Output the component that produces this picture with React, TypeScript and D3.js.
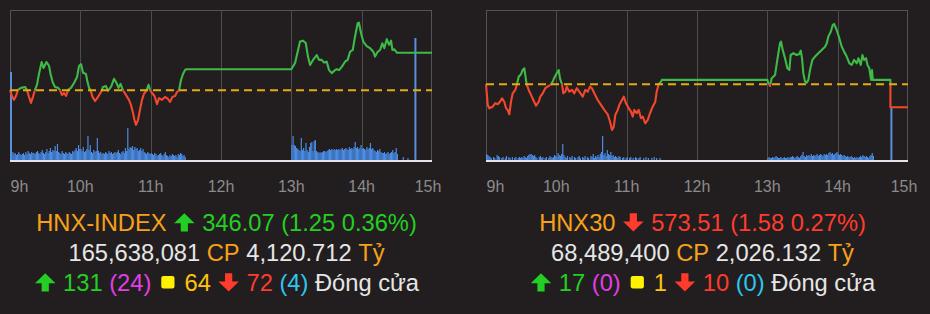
import React from 'react';
import * as d3 from 'd3';

const W = 930;
const H = 314;
const FONT = '"Liberation Sans", Arial, Helvetica, sans-serif';

const HOUR_LABELS = ['9h', '10h', '11h', '12h', '13h', '14h', '15h'];
const HOUR_MINUTES = [0, 60, 120, 180, 240, 300, 360];

// ---------- HNX-INDEX ----------
const HNX_REF = 344.82;
const HNX_DOMAIN = [342.5, 347.49];
const HNX_POINTS: [number, number][] = [
  [0, 344.82], [1.7, 344.63], [3.4, 344.5], [5.1, 344.63], [6.8, 344.83], [9.4, 344.9], [12.8, 344.93], [14.5, 344.83],
  [16.2, 344.6], [17.9, 344.4], [19.6, 344.6], [21.3, 344.83], [23, 345.0], [24.7, 345.36], [27, 345.76], [28.6, 345.56],
  [31.1, 345.76], [33.3, 345.63], [34.6, 345.36], [36.3, 345.1], [38.4, 344.93], [41, 344.9], [42.7, 344.82], [44.4, 344.66],
  [46.1, 344.73], [47.8, 344.63], [49.5, 344.83], [52, 344.9], [54.6, 345.06], [57.2, 345.26], [58.9, 345.63], [60.6, 345.69],
  [62.3, 345.4], [64.8, 345.36], [66.1, 345.1], [67.4, 344.9], [68.7, 344.82], [70.4, 344.6], [72.5, 344.46], [75.1, 344.6],
  [77.6, 344.76], [79.3, 344.93], [81.9, 344.96], [83.6, 344.8], [86.2, 344.93], [88.7, 345.2], [90.9, 345.06], [92.6, 344.9],
  [94.3, 345.03], [96.4, 344.82], [99, 344.66], [101.5, 344.5], [103.2, 344.33], [104.9, 344.07], [106.2, 343.83], [107.5, 343.67],
  [109.2, 343.83], [110.9, 344.17], [112.6, 344.5], [114.3, 344.7], [116.5, 344.82], [118.2, 345.0], [119.4, 344.83], [121.1, 344.73],
  [123.3, 344.63], [125.4, 344.36], [127.1, 344.56], [129.7, 344.5], [132.2, 344.6], [134.8, 344.53], [136.5, 344.43], [138.6, 344.6],
  [140.8, 344.63], [142.5, 344.76], [144.2, 344.82], [145.9, 345.16], [147.6, 345.36], [149.3, 345.49], [150, 345.52],
  [240, 345.52], [243.2, 345.73], [247.4, 346.44], [250, 346.47], [252.3, 346.39], [254.2, 345.94], [256, 345.66], [258.5, 345.83],
  [261.7, 345.99], [263.6, 345.83], [265.9, 345.83], [267.9, 345.74], [270.2, 345.77], [272.2, 345.49], [274.5, 345.39], [276.7, 345.47],
  [278.7, 345.52], [280.7, 345.49], [283, 345.6], [285.8, 345.77], [288.1, 345.83], [290.1, 346.1], [292.4, 346.16], [294.3, 346.6],
  [296.6, 347.05], [297.7, 347.07], [299.5, 346.71], [301.4, 346.44], [304.3, 346.29], [307.2, 346.22], [310, 346.1], [311.4, 345.94],
  [313.7, 346.1], [315.7, 346.16], [317.6, 346.38], [319.3, 346.22], [321.4, 346.52], [323.4, 346.33], [325.1, 346.47], [326.2, 346.16],
  [327.9, 346.18], [330, 346.07], [345, 346.07], [360, 346.07],
];
// volume per minute (thousand shares), morning from 9:00, afternoon from 13:00
const HNX_VOL_AM = [
  880, 50, 80, 60, 70, 50, 60, 80, 60, 50,
  60, 70, 50, 80, 60, 90, 70, 60, 80, 70,
  70, 60, 80, 90, 70, 60, 80, 100, 70, 60,
  80, 110, 70, 90, 120, 80, 100, 90, 140, 90,
  160, 80, 70, 60, 90, 70, 60, 80, 70, 60,
  80, 70, 60, 90, 80, 100, 120, 90, 150, 110,
  110, 90, 130, 80, 90, 110, 240, 100, 150, 80,
  70, 100, 80, 90, 220, 90, 70, 80, 60, 70,
  60, 80, 70, 60, 90, 70, 80, 60, 70, 80,
  70, 80, 100, 70, 60, 80, 90, 70, 120, 90,
  320, 110, 130, 120, 140, 100, 130, 110, 120, 90,
  100, 120, 90, 110, 80, 70, 60, 80, 70, 60,
  70, 60, 50, 70, 60, 40, 50, 60, 70, 50,
  40, 60, 80, 50, 40, 30, 50, 40, 60, 50,
  40, 50, 30, 60, 50, 70, 60, 40, 50, 30,
];
const HNX_VOL_PM = [
  150, 240, 150, 140, 120, 110, 100, 90, 220, 100,
  120, 90, 170, 100, 80, 130, 170, 180, 90, 190,
  200, 90, 80, 70, 80, 70, 80, 90, 90, 80,
  90, 100, 110, 100, 110, 100, 110, 100, 110, 100,
  110, 100, 110, 120, 100, 110, 120, 110, 100, 130,
  110, 120, 110, 130, 180, 120, 130, 110, 120, 150,
  110, 120, 110, 100, 130, 110, 120, 170, 110, 120,
  100, 90, 80, 100, 90, 110, 80, 70, 70, 80,
  60, 70, 80, 60, 70, 80, 100, 70, 80, 120,
  60,
];
const HNX_VOL_LATE_TIME = [335, 339, 345];
const HNX_VOL_LATE = [30, 20, 1220];

// ---------- HNX30 ----------
const HNX30_REF = 575.09;
const HNX30_DOMAIN = [569.89, 580.19];
const HNX30_POINTS: [number, number][] = [
  [0, 575.09], [1.5, 573.67], [2.8, 573.44], [5.7, 573.55], [7.9, 573.79], [10, 573.72], [11.9, 573.89], [13.7, 574.13],
  [15.6, 573.89], [17.1, 573.44], [18.5, 573.33], [19.9, 573.03], [21.3, 573.89], [22.8, 574.47], [25, 574.7], [26.4, 575.09],
  [27.9, 575.61], [29.9, 575.78], [31.3, 576.07], [32.7, 576.19], [34.1, 575.39], [34.7, 575.09], [36.4, 574.7], [38.4, 574.36],
  [40.4, 574.01], [42.7, 573.62], [45, 573.89], [46.3, 574.24], [48.4, 574.47], [50.6, 574.82], [52.6, 574.93], [55.5, 575.09],
  [56.9, 575.27], [58.3, 575.54], [60.3, 575.85], [62, 576.07], [63.1, 575.5], [64.8, 575.09], [66, 574.47], [67.7, 574.58],
  [68.9, 574.93], [71.1, 574.58], [73.4, 574.7], [75.3, 574.47], [77.4, 574.82], [79.6, 574.58], [82.5, 574.24], [84.7, 574.7],
  [86.8, 574.58], [88.7, 574.93], [90.4, 574.82], [92.4, 574.47], [95.3, 574.01], [98.1, 573.67], [100.9, 573.33], [103.8, 573.03],
  [105.8, 572.52], [107.5, 571.95], [109, 572.18], [110.3, 572.98], [112.4, 573.33], [113.7, 573.67], [116, 574.01], [117.5, 574.24],
  [119.4, 573.79], [121.8, 573.44], [123.7, 573.21], [125.2, 572.87], [126.5, 573.33], [128.6, 573.1], [130.3, 573.33], [132.2, 572.76],
  [133.7, 572.87], [135.9, 572.41], [138, 572.64], [139.9, 573.1], [142.2, 573.55], [144.4, 573.89], [145.6, 574.58], [147.3, 575.09],
  [149.3, 575.27], [150, 575.39],
  [240, 575.39], [240.9, 575.16], [242.3, 574.97], [243.7, 575.5], [246.6, 575.73], [248.5, 576.76], [250.8, 577.91], [251.7, 578.02],
  [253.1, 577.45], [255.1, 576.88], [257.1, 576.19], [258.8, 576.07], [259.9, 577.1], [262.2, 577.22], [265.1, 577.1], [267.3, 577.17],
  [268.5, 577.4], [269.6, 576.88], [270.7, 575.85], [272.2, 575.27], [273.6, 575.2], [275, 575.39], [276.4, 576.07], [278.4, 576.76],
  [280.7, 576.99], [283.5, 577.22], [286.4, 577.45], [289.2, 577.67], [290.7, 577.91], [292, 578.36], [294.1, 578.7], [295.8, 579.16],
  [296.9, 579.23], [298.6, 578.94], [300.1, 578.59], [301.4, 578.25], [303.5, 577.67], [305.5, 577.33], [307.7, 576.99], [310, 576.53],
  [312, 576.42], [314, 576.76], [316.3, 576.53], [317.7, 576.88], [319.7, 576.42], [321.1, 577.1], [322.5, 576.76], [324.2, 576.88],
  [325.4, 576.42], [327, 576.19], [328.5, 575.39], [329.3, 576.07], [330, 575.39], [345, 575.39], [345, 573.51], [360, 573.51],
];
const HNX30_VOL_AM = [
  60, 50, 40, 30, 20, 0, 30, 20, 0, 50,
  40, 30, 0, 20, 30, 0, 20, 40, 0, 30,
  20, 0, 30, 0, 20, 30, 0, 20, 30, 20,
  30, 20, 40, 30, 20, 40, 50, 60, 60, 50,
  40, 50, 30, 20, 0, 30, 40, 20, 30, 0,
  20, 30, 0, 20, 40, 30, 20, 30, 50, 40,
  30, 70, 50, 40, 60, 160, 50, 30, 20, 40,
  0, 30, 20, 40, 0, 30, 20, 0, 30, 40,
  20, 0, 30, 20, 40, 0, 30, 20, 0, 40,
  30, 60, 20, 40, 30, 50, 30, 60, 80, 240,
  50, 70, 40, 100, 60, 50, 80, 40, 50, 30,
  40, 30, 20, 40, 30, 0, 20, 30, 0, 20,
  30, 0, 20, 30, 0, 20, 0, 30, 20, 0,
  20, 30, 0, 0, 20, 0, 30, 0, 20, 0,
  0, 20, 0, 30, 0, 20, 0, 0, 20, 0,
];
const HNX30_VOL_PM = [
  20, 30, 20, 20, 30, 20, 30, 40, 30, 20,
  20, 30, 20, 20, 30, 20, 20, 30, 20, 30,
  30, 40, 30, 20, 30, 40, 30, 20, 40, 50,
  80, 40, 30, 50, 40, 50, 40, 60, 40, 50,
  40, 50, 60, 40, 50, 60, 50, 40, 60, 50,
  60, 50, 70, 80, 60, 70, 50, 60, 70, 80,
  60, 50, 60, 50, 40, 50, 40, 30, 40, 30,
  30, 40, 30, 20, 30, 20, 30, 20, 30, 40,
  30, 50, 40, 30, 40, 30, 20, 40, 50, 70,
  40,
];
const HNX30_VOL_LATE_TIME = [345];
const HNX30_VOL_LATE = [530];

// ---------- colours ----------
const C_ORANGE = '#f7a11a';
const C_GREEN_T = '#22cf22';
const C_RED_T = '#ff3b2c';
const C_MAGENTA = '#e13ee4';
const C_GOLD = '#ffc20e';
const C_YELLOW = '#fff200';
const C_CYAN = '#2ec5ee';
const C_WHITE = '#e6e6e6';

type Seg =
  | { k: 't'; s: string; c: string }
  | { k: 'sp' }
  | { k: 'up' | 'down' | 'sq'; c: string };

const T = (s: string, c: string): Seg => ({ k: 't', s, c });
const SP: Seg = { k: 'sp' };

const HNX_LINES: Seg[][] = [
  [T('HNX-INDEX', C_ORANGE), SP, { k: 'up', c: C_GREEN_T }, SP, T('346.07 (1.25 0.36%)', C_GREEN_T)],
  [T('165,638,081', C_WHITE), SP, T('CP', C_ORANGE), SP, T('4,120.712', C_WHITE), SP, T('Tỷ', C_ORANGE)],
  [{ k: 'up', c: C_GREEN_T }, SP, T('131', C_GREEN_T), SP, T('(24)', C_MAGENTA), SP, { k: 'sq', c: C_YELLOW }, SP,
    T('64', C_GOLD), SP, { k: 'down', c: C_RED_T }, SP, T('72', C_RED_T), SP, T('(4)', C_CYAN), SP, T('Đóng cửa', C_WHITE)],
];
const HNX30_LINES: Seg[][] = [
  [T('HNX30', C_ORANGE), SP, { k: 'down', c: C_RED_T }, SP, T('573.51 (1.58 0.27%)', C_RED_T)],
  [T('68,489,400', C_WHITE), SP, T('CP', C_ORANGE), SP, T('2,026.132', C_WHITE), SP, T('Tỷ', C_ORANGE)],
  [{ k: 'up', c: C_GREEN_T }, SP, T('17', C_GREEN_T), SP, T('(0)', C_MAGENTA), SP, { k: 'sq', c: C_YELLOW }, SP,
    T('1', C_GOLD), SP, { k: 'down', c: C_RED_T }, SP, T('10', C_RED_T), SP, T('(0)', C_CYAN), SP, T('Đóng cửa', C_WHITE)],
];

const FS = 23.7;
let ctx: CanvasRenderingContext2D | null = null;
function tw(s: string): number {
  if (!ctx) ctx = document.createElement('canvas').getContext('2d');
  if (!ctx) return s.length * FS * 0.55;
  ctx.font = `${FS}px ${FONT}`;
  return ctx.measureText(s).width;
}
function segW(s: Seg): number {
  if (s.k === 't') return tw(s.s);
  if (s.k === 'sp') return tw(' ');
  if (s.k === 'sq') return 20;
  return 22.5;
}

function SummaryLine({ segs, cx, base, id }: { segs: Seg[]; cx: number; base: number; id: string }) {
  const total = segs.reduce((a, s) => a + segW(s), 0);
  let xp = cx - total / 2;
  const out: React.ReactNode[] = [];
  segs.forEach((s, i) => {
    const w = segW(s);
    const key = `${id}-${i}`;
    if (s.k === 't') {
      out.push(
        <text key={key} x={xp} y={base} fill={s.c} fontSize={FS} fontFamily={FONT}>
          {s.s}
        </text>
      );
    } else if (s.k === 'up' || s.k === 'down') {
      const c = xp + w / 2;
      const hw = 10.25;
      const sw = 3.6;
      const top = base - 17.5;
      const bot = base + 0.8;
      const headH = 10;
      let d: string;
      if (s.k === 'up') {
        d = `M${c},${top} L${c + hw},${top + headH} L${c + sw},${top + headH} L${c + sw},${bot} L${c - sw},${bot} L${c - sw},${top + headH} L${c - hw},${top + headH} Z`;
      } else {
        d = `M${c},${bot} L${c + hw},${bot - headH} L${c + sw},${bot - headH} L${c + sw},${top} L${c - sw},${top} L${c - sw},${bot - headH} L${c - hw},${bot - headH} Z`;
      }
      out.push(<path key={key} d={d} fill={s.c} />);
    } else if (s.k === 'sq') {
      const c = xp + w / 2;
      out.push(<rect key={key} x={c - 6.6} y={base - 14.8} width={13.2} height={12.6} rx={2.2} fill={s.c} />);
    }
    xp += w;
  });
  return <g>{out}</g>;
}

type PanelProps = {
  id: string;
  x0: number;
  x1: number;
  points: [number, number][];
  refValue: number;
  domain: number[];
  volAM: number[];
  volPM: number[];
  lateT: number[];
  lateV: number[];
  lines: Seg[][];
};

const TOP = 10;
const BOTTOM = 160;

function Panel({ id, x0, x1, points, refValue, domain, volAM, volPM, lateT, lateV, lines }: PanelProps) {
  const x = d3.scaleLinear().domain([0, 360]).range([x0, x1]);
  const y = d3.scaleLinear().domain(domain).range([BOTTOM, TOP]);
  const vy = d3.scaleLinear().domain([0, 1500]).range([BOTTOM, TOP]);
  const line = d3.line<[number, number]>().x((d) => x(d[0])).y((d) => y(d[1]));
  const path = line(points) || '';
  const refY = y(refValue);
  const bw = x(1) - x(0);

  const bars: [number, number][] = [
    ...volAM.map((v, i) => [i, v] as [number, number]),
    ...volPM.map((v, i) => [240 + i, v] as [number, number]),
    ...lateT.map((t, i) => [t, lateV[i]] as [number, number]),
  ].filter((b) => b[1] > 0);

  const cx = (x0 + x1) / 2 + 5.5;

  return (
    <g>
      <defs>
        <clipPath id={`${id}-above`}>
          <rect x={x0 - 5} y={0} width={x1 - x0 + 10} height={refY} />
        </clipPath>
        <clipPath id={`${id}-below`}>
          <rect x={x0 - 5} y={refY} width={x1 - x0 + 10} height={H - refY} />
        </clipPath>
      </defs>
      {/* frame */}
      <rect x={x0 + 0.5} y={TOP + 0.5} width={x1 - x0 - 1} height={BOTTOM - TOP} fill="none" stroke="#545253" strokeWidth={1} />
      {HOUR_MINUTES.slice(1, -1).map((m) => (
        <line key={m} x1={Math.round(x(m)) + 0.5} x2={Math.round(x(m)) + 0.5} y1={TOP} y2={BOTTOM} stroke="#4e4b4c" strokeWidth={1} />
      ))}
      {/* volume */}
      {bars.map(([m, v]) => (
        <rect key={m} x={x(m)} y={vy(v)} width={v >= 500 ? 2 : bw} height={BOTTOM - vy(v)} fill={v >= 500 ? '#5a8fdc' : '#4b8ee8'} />
      ))}
      {/* price line */}
      <path d={path} fill="none" stroke="#3dba47" strokeWidth={2.1} strokeLinejoin="round" clipPath={`url(#${id}-above)`} />
      <path d={path} fill="none" stroke="#f4472c" strokeWidth={2.1} strokeLinejoin="round" clipPath={`url(#${id}-below)`} />
      {/* reference */}
      <line x1={x0} x2={x1} y1={refY} y2={refY} stroke="#e5ab12" strokeWidth={2} strokeDasharray="8,5" />
      {/* base axis */}
      <line x1={x0} x2={x1} y1={BOTTOM + 1} y2={BOTTOM + 1} stroke="#e4e2ea" strokeWidth={2} />
      {/* hour labels */}
      {HOUR_LABELS.map((lab, i) => {
        const m = HOUR_MINUTES[i];
        const first = i === 0;
        const last = i === HOUR_LABELS.length - 1;
        return (
          <text
            key={lab}
            x={first ? x(m) + 0.5 : last ? x(m) - 4 : x(m)}
            y={191.7}
            fill="#8c8b8b"
            fontSize={16}
            fontFamily={FONT}
            textAnchor={first ? 'start' : 'middle'}
          >
            {lab}
          </text>
        );
      })}
      {lines.map((segs, i) => (
        <SummaryLine key={i} id={`${id}-l${i}`} segs={segs} cx={cx} base={230.7 + i * 30} />
      ))}
    </g>
  );
}

export default function App() {
  return (
    <svg
      width={W}
      height={H}
      viewBox={`0 0 ${W} ${H}`}
      style={{ position: 'absolute', left: 0, top: 0, display: 'block' }}
    >
      <rect x={0} y={0} width={W} height={H} fill="#221e1f" />
      <Panel
        id="hnx"
        x0={10}
        x1={432}
        points={HNX_POINTS}
        refValue={HNX_REF}
        domain={HNX_DOMAIN}
        volAM={HNX_VOL_AM}
        volPM={HNX_VOL_PM}
        lateT={HNX_VOL_LATE_TIME}
        lateV={HNX_VOL_LATE}
        lines={HNX_LINES}
      />
      <Panel
        id="hnx30"
        x0={486}
        x1={908}
        points={HNX30_POINTS}
        refValue={HNX30_REF}
        domain={HNX30_DOMAIN}
        volAM={HNX30_VOL_AM}
        volPM={HNX30_VOL_PM}
        lateT={HNX30_VOL_LATE_TIME}
        lateV={HNX30_VOL_LATE}
        lines={HNX30_LINES}
      />
    </svg>
  );
}
